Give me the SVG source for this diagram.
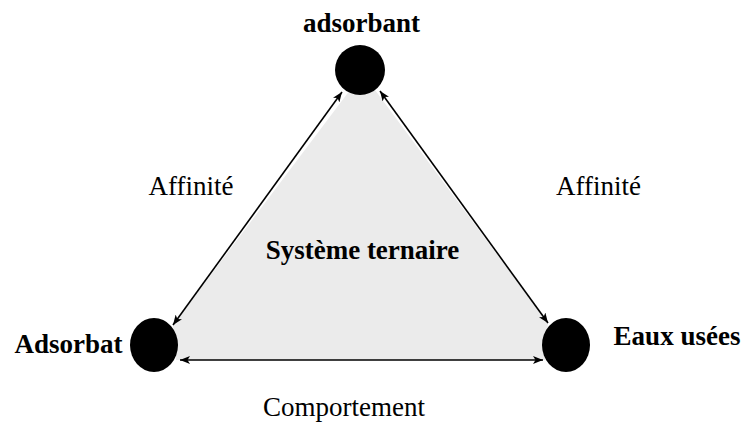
<svg xmlns="http://www.w3.org/2000/svg" width="746" height="423" viewBox="0 0 746 423">
<style>
.lbl{font-family:"Liberation Serif","Times New Roman",serif;font-size:27px;fill:#000;text-anchor:middle}
.b{font-weight:bold}
.edge{stroke:#000;stroke-width:1.6;fill:none;marker-start:url(#ah);marker-end:url(#ah)}
.node{fill:#000}
</style>
<defs>
<marker id="ah" viewBox="0 0 10 8" refX="10" refY="4" markerWidth="10" markerHeight="8" markerUnits="userSpaceOnUse" orient="auto-start-reverse">
<path d="M0,0 L10,4 L0,8 L2.5,4 Z" fill="#000"/>
</marker>
</defs>
<rect width="746" height="423" fill="#fff"/>
<polygon points="350,90 173,325 176,360 545,360 548,323 375,90" fill="#ebebeb"/>
<g id="connectors">
<line class="edge" x1="342" y1="92" x2="173" y2="325"/>
<line class="edge" x1="380" y1="91" x2="548" y2="323"/>
<line class="edge" x1="180" y1="360" x2="543" y2="360"/>
</g>
<g id="adsorbant">
<ellipse class="node" cx="360" cy="70" rx="25" ry="25"/>
<text class="lbl b" x="361.5" y="32">adsorbant</text>
</g>
<g id="adsorbat">
<ellipse class="node" cx="154" cy="345" rx="24" ry="27"/>
<text class="lbl b" x="68.5" y="353">Adsorbat</text>
</g>
<g id="eaux">
<ellipse class="node" cx="566" cy="345" rx="24" ry="27"/>
<text class="lbl b" x="677" y="345">Eaux usées</text>
</g>
<g id="systeme">
<text class="lbl b" x="362.5" y="259">Système ternaire</text>
</g>
<g id="labels">
<text class="lbl" x="191" y="195">Affinité</text>
<text class="lbl" x="598.5" y="195">Affinité</text>
<text class="lbl" x="344" y="416">Comportement</text>
</g>
</svg>
